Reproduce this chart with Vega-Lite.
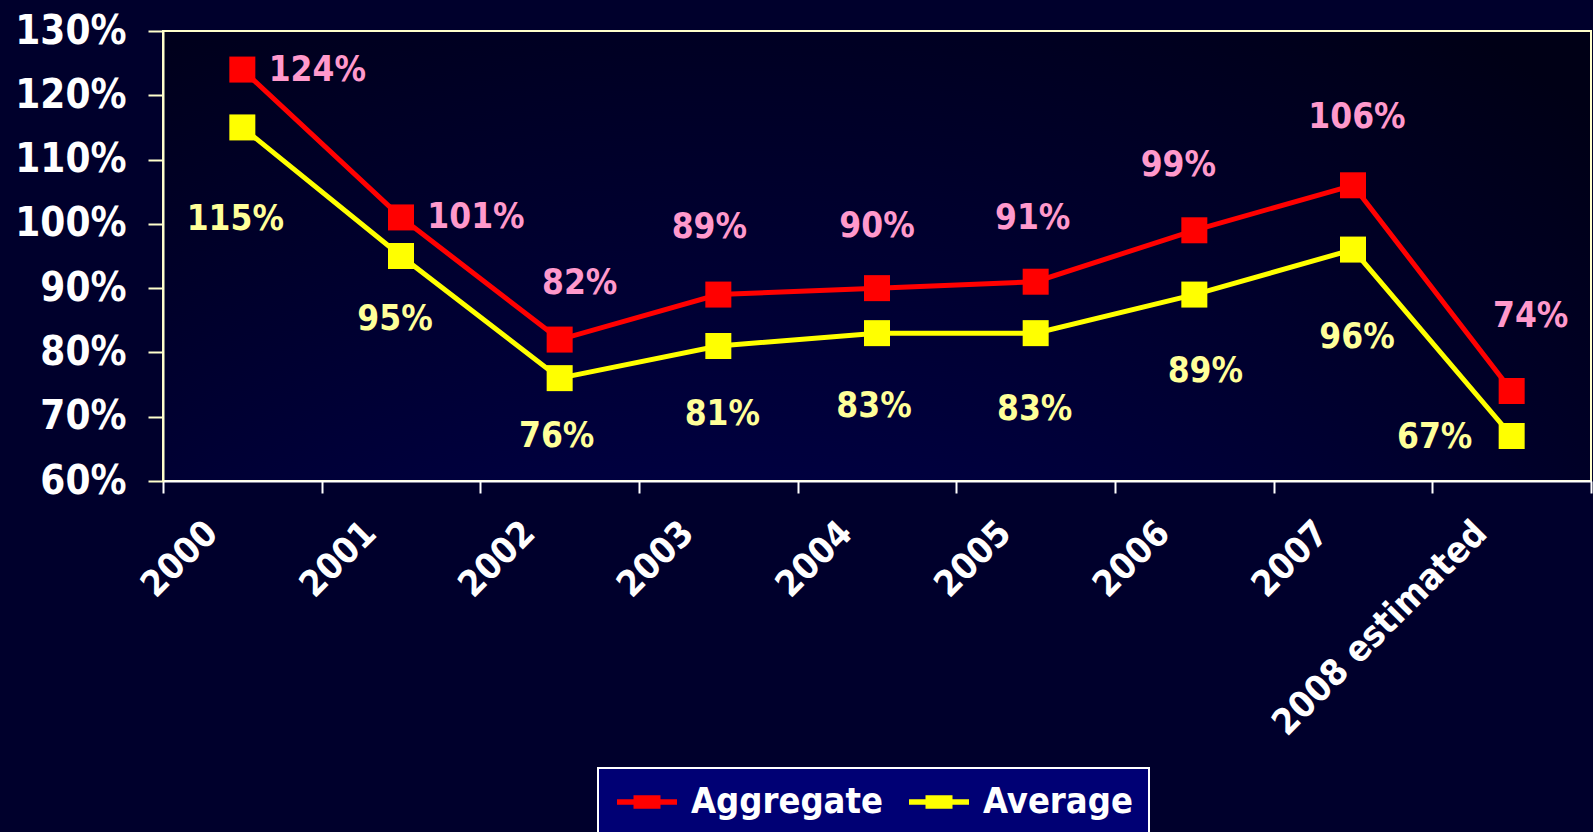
{
  "$schema": "https://vega.github.io/schema/vega-lite/v6.json",
  "width": 1428,
  "height": 450,
  "autosize": {"type": "none"},
  "padding": {"left": 163, "top": 31, "right": 2, "bottom": 351},
  "background": "#00002C",
  "config": {
    "font": "DejaVu Sans Condensed, DejaVu Sans",
    "view": {
      "stroke": "#FFFFCC",
      "strokeWidth": 2,
      "fill": {
        "gradient": "radial",
        "x1": 0.4, "y1": 1.2, "r1": 0,
        "x2": 0.4, "y2": 1.2, "r2": 1.0,
        "stops": [
          {"offset": 0, "color": "#000070"},
          {"offset": 1, "color": "#000016"}
        ]
      }
    }
  },
  "data": {
    "values": [
      {"year": "2000", "series": "Aggregate", "value": 1.24},
      {"year": "2001", "series": "Aggregate", "value": 1.01},
      {"year": "2002", "series": "Aggregate", "value": 0.82},
      {"year": "2003", "series": "Aggregate", "value": 0.89},
      {"year": "2004", "series": "Aggregate", "value": 0.90},
      {"year": "2005", "series": "Aggregate", "value": 0.91},
      {"year": "2006", "series": "Aggregate", "value": 0.99},
      {"year": "2007", "series": "Aggregate", "value": 1.06},
      {"year": "2008 estimated", "series": "Aggregate", "value": 0.74},
      {"year": "2000", "series": "Average", "value": 1.15},
      {"year": "2001", "series": "Average", "value": 0.95},
      {"year": "2002", "series": "Average", "value": 0.76},
      {"year": "2003", "series": "Average", "value": 0.81},
      {"year": "2004", "series": "Average", "value": 0.83},
      {"year": "2005", "series": "Average", "value": 0.83},
      {"year": "2006", "series": "Average", "value": 0.89},
      {"year": "2007", "series": "Average", "value": 0.96},
      {"year": "2008 estimated", "series": "Average", "value": 0.67}
    ]
  },
  "encoding": {
    "x": {
      "field": "year",
      "type": "ordinal",
      "sort": null,
      "scale": {"type": "band", "paddingInner": 0, "paddingOuter": 0},
      "axis": {
        "title": null,
        "grid": false,
        "tickBand": "extent",
        "labelAngle": -45,
        "labelAlign": "right",
        "labelBaseline": "middle",
        "labelOffset": -31,
        "labelPadding": 34,
        "tickSize": 12,
        "tickWidth": 2,
        "tickColor": "#FFFFFF",
        "domainColor": "#FFFFFF",
        "domainWidth": 2,
        "labelColor": "#FFFFFF",
        "labelFontSize": 36,
        "labelFontWeight": "bold",
        "labelLimit": 500
      }
    },
    "y": {
      "field": "value",
      "type": "quantitative",
      "scale": {"domain": [0.6, 1.3], "nice": false, "zero": false},
      "axis": {
        "title": null,
        "grid": false,
        "values": [0.6, 0.7, 0.8, 0.9, 1.0, 1.1, 1.2, 1.3],
        "format": ".0%",
        "tickSize": 15,
        "tickWidth": 2,
        "tickColor": "#FFFFCC",
        "domainColor": "#FFFFCC",
        "domainWidth": 2,
        "labelColor": "#FFFFFF",
        "labelFontSize": 40,
        "labelFontWeight": "bold",
        "labelPadding": 22
      }
    }
  },
  "layer": [
    {
      "mark": {
        "type": "line",
        "strokeWidth": 5,
        "point": {"shape": "square", "size": 676, "filled": true, "opacity": 1}
      },
      "encoding": {
        "color": {
          "field": "series",
          "type": "nominal",
          "scale": {"domain": ["Aggregate", "Average"], "range": ["#FF0000", "#FFFF00"]},
          "legend": {
            "orient": "none",
            "legendX": 435,
            "legendY": 737,
            "direction": "horizontal",
            "title": null,
            "padding": 16,
            "strokeColor": "#FFFFFF",
            "fillColor": "#000074",
            "symbolType": "M-1,-0.18H3V0.18H-1Z M0.1,-0.45H1.9V0.45H0.1Z",
            "symbolSize": 900,
            "symbolStrokeWidth": 0,
            "symbolOpacity": 1,
            "labelFontSize": 36,
            "labelFontWeight": "bold",
            "labelColor": "#FFFFFF",
            "labelOffset": 41,
            "labelLimit": 400,
            "columnPadding": 23,
            "encode": {
              "legend": {"update": {"strokeWidth": {"value": 2}}},
              "symbols": {"update": {"fill": {"scale": "color", "field": "value"}, "strokeWidth": {"value": 0}}}
            }
          }
        }
      }
    },
    {
      "encoding": {"text": {"field": "value", "type": "quantitative", "format": ".0%"}},
      "layer": [
        {"transform": [{"filter": "datum.series == 'Aggregate' && datum.year == '2000'"}], "mark": {"type": "text", "fontSize": 35, "fontWeight": "bold", "color": "#FF99CC", "align": "center", "baseline": "middle", "dx": 75, "dy": 0}},
        {"transform": [{"filter": "datum.series == 'Aggregate' && datum.year == '2001'"}], "mark": {"type": "text", "fontSize": 35, "fontWeight": "bold", "color": "#FF99CC", "align": "center", "baseline": "middle", "dx": 75, "dy": 0}},
        {"transform": [{"filter": "datum.series == 'Aggregate' && datum.year == '2002'"}], "mark": {"type": "text", "fontSize": 35, "fontWeight": "bold", "color": "#FF99CC", "align": "center", "baseline": "middle", "dx": 20, "dy": -57}},
        {"transform": [{"filter": "datum.series == 'Aggregate' && datum.year == '2003'"}], "mark": {"type": "text", "fontSize": 35, "fontWeight": "bold", "color": "#FF99CC", "align": "center", "baseline": "middle", "dx": -9, "dy": -68}},
        {"transform": [{"filter": "datum.series == 'Aggregate' && datum.year == '2004'"}], "mark": {"type": "text", "fontSize": 35, "fontWeight": "bold", "color": "#FF99CC", "align": "center", "baseline": "middle", "dx": 0, "dy": -62}},
        {"transform": [{"filter": "datum.series == 'Aggregate' && datum.year == '2005'"}], "mark": {"type": "text", "fontSize": 35, "fontWeight": "bold", "color": "#FF99CC", "align": "center", "baseline": "middle", "dx": -3, "dy": -64}},
        {"transform": [{"filter": "datum.series == 'Aggregate' && datum.year == '2006'"}], "mark": {"type": "text", "fontSize": 35, "fontWeight": "bold", "color": "#FF99CC", "align": "center", "baseline": "middle", "dx": -16, "dy": -65}},
        {"transform": [{"filter": "datum.series == 'Aggregate' && datum.year == '2007'"}], "mark": {"type": "text", "fontSize": 35, "fontWeight": "bold", "color": "#FF99CC", "align": "center", "baseline": "middle", "dx": 4, "dy": -68}},
        {"transform": [{"filter": "datum.series == 'Aggregate' && datum.year == '2008 estimated'"}], "mark": {"type": "text", "fontSize": 35, "fontWeight": "bold", "color": "#FF99CC", "align": "center", "baseline": "middle", "dx": 19, "dy": -75}},
        {"transform": [{"filter": "datum.series == 'Average' && datum.year == '2000'"}], "mark": {"type": "text", "fontSize": 35, "fontWeight": "bold", "color": "#FFFF99", "align": "center", "baseline": "middle", "dx": -7, "dy": 92}},
        {"transform": [{"filter": "datum.series == 'Average' && datum.year == '2001'"}], "mark": {"type": "text", "fontSize": 35, "fontWeight": "bold", "color": "#FFFF99", "align": "center", "baseline": "middle", "dx": -6, "dy": 63}},
        {"transform": [{"filter": "datum.series == 'Average' && datum.year == '2002'"}], "mark": {"type": "text", "fontSize": 35, "fontWeight": "bold", "color": "#FFFF99", "align": "center", "baseline": "middle", "dx": -3, "dy": 58}},
        {"transform": [{"filter": "datum.series == 'Average' && datum.year == '2003'"}], "mark": {"type": "text", "fontSize": 35, "fontWeight": "bold", "color": "#FFFF99", "align": "center", "baseline": "middle", "dx": 4, "dy": 68}},
        {"transform": [{"filter": "datum.series == 'Average' && datum.year == '2004'"}], "mark": {"type": "text", "fontSize": 35, "fontWeight": "bold", "color": "#FFFF99", "align": "center", "baseline": "middle", "dx": -3, "dy": 73}},
        {"transform": [{"filter": "datum.series == 'Average' && datum.year == '2005'"}], "mark": {"type": "text", "fontSize": 35, "fontWeight": "bold", "color": "#FFFF99", "align": "center", "baseline": "middle", "dx": -1, "dy": 76}},
        {"transform": [{"filter": "datum.series == 'Average' && datum.year == '2006'"}], "mark": {"type": "text", "fontSize": 35, "fontWeight": "bold", "color": "#FFFF99", "align": "center", "baseline": "middle", "dx": 11, "dy": 76}},
        {"transform": [{"filter": "datum.series == 'Average' && datum.year == '2007'"}], "mark": {"type": "text", "fontSize": 35, "fontWeight": "bold", "color": "#FFFF99", "align": "center", "baseline": "middle", "dx": 4, "dy": 87}},
        {"transform": [{"filter": "datum.series == 'Average' && datum.year == '2008 estimated'"}], "mark": {"type": "text", "fontSize": 35, "fontWeight": "bold", "color": "#FFFF99", "align": "center", "baseline": "middle", "dx": -77, "dy": 1}}
      ]
    }
  ]
}
